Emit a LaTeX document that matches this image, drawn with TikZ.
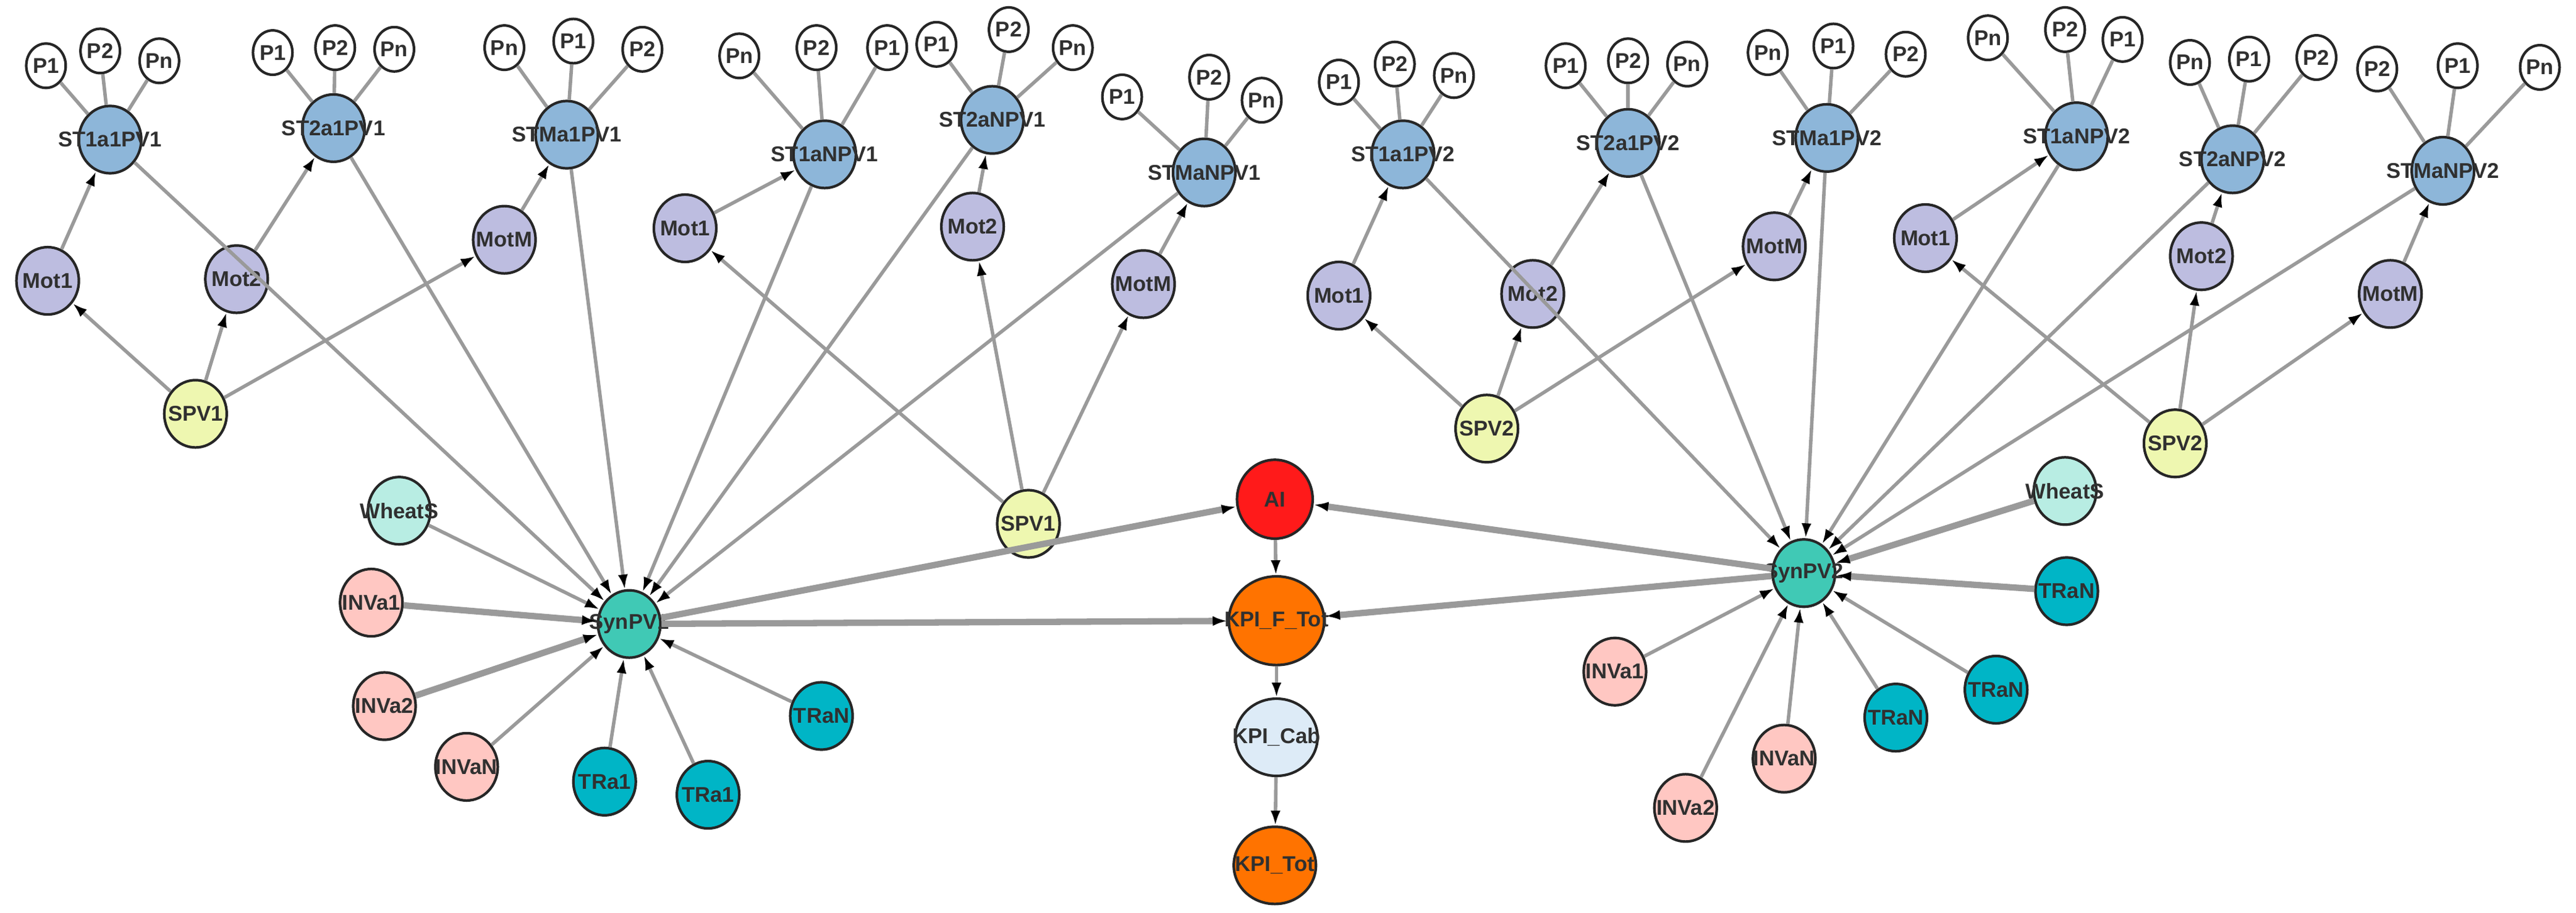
\documentclass[tikz,border=0pt]{standalone}
\usepackage{fontspec}
\setmainfont{Liberation Sans}
\usetikzlibrary{shapes.geometric,arrows.meta}
\definecolor{cST}{HTML}{8DB6D9}
\definecolor{cMot}{HTML}{BDBDE0}
\definecolor{cSPV}{HTML}{EEF7B0}
\definecolor{cSyn}{HTML}{40C9B5}
\definecolor{cWh}{HTML}{B8EDE3}
\definecolor{cINV}{HTML}{FFC7C2}
\definecolor{cTR}{HTML}{00B5C6}
\definecolor{cAI}{HTML}{FF1A1A}
\definecolor{cKPI}{HTML}{FF7300}
\definecolor{cCab}{HTML}{DDEBF7}
\definecolor{cEdge}{HTML}{9A9A9A}
\definecolor{cTxt}{HTML}{303030}
\begin{document}
\begin{tikzpicture}[x=0.01cm,y=-0.01cm,
 base/.style={ellipse,draw=black!85,line width=0.45pt,inner sep=0pt,minimum width=0.38cm,minimum height=0.41cm},
 txt/.style={font=\fontsize{3.7}{4}\selectfont\bfseries,text=cTxt,inner sep=0pt},
 st/.style={base,fill=cST}, mot/.style={base,fill=cMot}, spv/.style={base,fill=cSPV},
 syn/.style={base,fill=cSyn}, wh/.style={base,fill=cWh}, inv/.style={base,fill=cINV},
 tr/.style={base,fill=cTR},
 pnode/.style={base,fill=white,minimum width=0.24cm,minimum height=0.27cm},
 ai/.style={base,fill=cAI,minimum width=0.46cm,minimum height=0.48cm},
 kpi/.style={base,fill=cKPI,minimum width=0.58cm,minimum height=0.54cm},
 kpis/.style={base,fill=cKPI,minimum width=0.5cm,minimum height=0.47cm},
 cab/.style={base,fill=cCab,minimum width=0.5cm,minimum height=0.47cm},
 edg/.style={draw=cEdge,line width=0.6pt},
 arr/.style={edg,-{Latex[length=0.9mm,width=0.6mm,color=black]}},
 arrthick/.style={arr,line width=1.1pt}
]
\useasboundingbox (0,0) rectangle (1568,556);
\newcommand\NN[4]{\node[#2,label={[txt]center:#4}] (#1) at (#3) {};}
% ---- left group 1
\NN{a1}{st}{67,85}{ST1a1PV1}
\NN{a1p1}{pnode}{28,40}{P1}\NN{a1p2}{pnode}{61,31}{P2}\NN{a1pn}{pnode}{97,37}{Pn}
\NN{a2}{st}{203,78}{ST2a1PV1}
\NN{a2p1}{pnode}{166,32}{P1}\NN{a2p2}{pnode}{204,29}{P2}\NN{a2pn}{pnode}{240,30}{Pn}
\NN{a3}{st}{345,82}{STMa1PV1}
\NN{a3pn}{pnode}{307,29}{Pn}\NN{a3p1}{pnode}{349,25}{P1}\NN{a3p2}{pnode}{391,30}{P2}
\NN{am1}{mot}{29,171}{Mot1}\NN{am2}{mot}{144,170}{Mot2}\NN{amm}{mot}{307,146}{MotM}
\NN{as}{spv}{119,252}{SPV1}
% ---- left group 2
\NN{b1}{st}{502,94}{ST1aNPV1}
\NN{b1pn}{pnode}{450,34}{Pn}\NN{b1p2}{pnode}{497,29}{P2}\NN{b1p1}{pnode}{540,29}{P1}
\NN{b2}{st}{604,73}{ST2aNPV1}
\NN{b2p1}{pnode}{570,27}{P1}\NN{b2p2}{pnode}{614,18}{P2}\NN{b2pn}{pnode}{653,29}{Pn}
\NN{b3}{st}{733,105}{STMaNPV1}
\NN{b3p1}{pnode}{683,59}{P1}\NN{b3p2}{pnode}{736,47}{P2}\NN{b3pn}{pnode}{768,61}{Pn}
\NN{bm1}{mot}{417,139}{Mot1}\NN{bm2}{mot}{592,138}{Mot2}\NN{bmm}{mot}{696,173}{MotM}
\NN{bs}{spv}{626,319}{SPV1}
% ---- right group 1
\NN{c1}{st}{854,94}{ST1a1PV2}
\NN{c1p1}{pnode}{815,50}{P1}\NN{c1p2}{pnode}{849,39}{P2}\NN{c1pn}{pnode}{885,46}{Pn}
\NN{c2}{st}{991,87}{ST2a1PV2}
\NN{c2p1}{pnode}{953,40}{P1}\NN{c2p2}{pnode}{991,37}{P2}\NN{c2pn}{pnode}{1027,39}{Pn}
\NN{c3}{st}{1112,84}{STMa1PV2}
\NN{c3pn}{pnode}{1076,32}{Pn}\NN{c3p1}{pnode}{1116,28}{P1}\NN{c3p2}{pnode}{1160,33}{P2}
\NN{cm1}{mot}{815,180}{Mot1}\NN{cm2}{mot}{933,179}{Mot2}\NN{cmm}{mot}{1080,150}{MotM}
\NN{cs}{spv}{905,261}{SPV2}
% ---- right group 2
\NN{d1}{st}{1264,83}{ST1aNPV2}
\NN{d1pn}{pnode}{1210,23}{Pn}\NN{d1p2}{pnode}{1257,18}{P2}\NN{d1p1}{pnode}{1292,24}{P1}
\NN{d2}{st}{1359,97}{ST2aNPV2}
\NN{d2pn}{pnode}{1333,38}{Pn}\NN{d2p1}{pnode}{1369,36}{P1}\NN{d2p2}{pnode}{1410,35}{P2}
\NN{d3}{st}{1487,104}{STMaNPV2}
\NN{d3p2}{pnode}{1447,42}{P2}\NN{d3p1}{pnode}{1496,40}{P1}\NN{d3pn}{pnode}{1546,41}{Pn}
\NN{dm1}{mot}{1172,145}{Mot1}\NN{dm2}{mot}{1340,156}{Mot2}\NN{dmm}{mot}{1455,179}{MotM}
\NN{ds}{spv}{1324,270}{SPV2}
% ---- lower
\NN{syn1}{syn}{383,380}{SynPV1}
\NN{syn2}{syn}{1098,349}{SynPV2}
\NN{ai}{ai}{776,304}{AI}
\NN{kft}{kpi}{777,378}{KPI\_F\_Tot}
\NN{kcab}{cab}{777,449}{KPI\_Cab}
\NN{ktot}{kpis}{776,527}{KPI\_Tot}
\NN{wh1}{wh}{243,311}{WheatS}
\NN{i11}{inv}{226,367}{INVa1}
\NN{i12}{inv}{234,430}{INVa2}
\NN{i1n}{inv}{284,467}{INVaN}
\NN{t1a}{tr}{368,476}{TRa1}
\NN{t1b}{tr}{431,484}{TRa1}
\NN{t1n}{tr}{500,436}{TRaN}
\NN{wh2}{wh}{1257,299}{WheatS}
\NN{t2a}{tr}{1258,360}{TRaN}
\NN{t2b}{tr}{1215,420}{TRaN}
\NN{t2c}{tr}{1154,437}{TRaN}
\NN{i21}{inv}{983,409}{INVa1}
\NN{i2n}{inv}{1086,462}{INVaN}
\NN{i22}{inv}{1026,492}{INVa2}
% ---- P edges
\foreach \s/\q in {a1/a1p1,a1/a1p2,a1/a1pn,a2/a2p1,a2/a2p2,a2/a2pn,a3/a3pn,a3/a3p1,a3/a3p2,
 b1/b1pn,b1/b1p2,b1/b1p1,b2/b2p1,b2/b2p2,b2/b2pn,b3/b3p1,b3/b3p2,b3/b3pn,
 c1/c1p1,c1/c1p2,c1/c1pn,c2/c2p1,c2/c2p2,c2/c2pn,c3/c3pn,c3/c3p1,c3/c3p2,
 d1/d1pn,d1/d1p2,d1/d1p1,d2/d2pn,d2/d2p1,d2/d2p2,d3/d3p2,d3/d3p1,d3/d3pn}
 \draw[edg] (\s) -- (\q);
% ---- arrows
\foreach \f/\t in {as/am1,as/am2,as/amm,am1/a1,am2/a2,amm/a3,
 bs/bm1,bs/bm2,bs/bmm,bm1/b1,bm2/b2,bmm/b3,
 cs/cm1,cs/cm2,cs/cmm,cm1/c1,cm2/c2,cmm/c3,
 ds/dm1,ds/dm2,ds/dmm,dm1/d1,dm2/d2,dmm/d3,
 a1/syn1,a2/syn1,a3/syn1,b1/syn1,b2/syn1,b3/syn1,
 c1/syn2,c2/syn2,c3/syn2,d1/syn2,d2/syn2,d3/syn2,
 wh1/syn1,i1n/syn1,t1a/syn1,t1b/syn1,t1n/syn1,
 t2b/syn2,t2c/syn2,i21/syn2,i2n/syn2,i22/syn2,
 ai/kft,kft/kcab,kcab/ktot}
 \draw[arr] (\f) -- (\t);
\foreach \f/\t in {syn1/ai,syn1/kft,syn2/ai,syn2/kft,i11/syn1,i12/syn1,t2a/syn2,wh2/syn2}
 \draw[arrthick] (\f) -- (\t);
\end{tikzpicture}
\end{document}
